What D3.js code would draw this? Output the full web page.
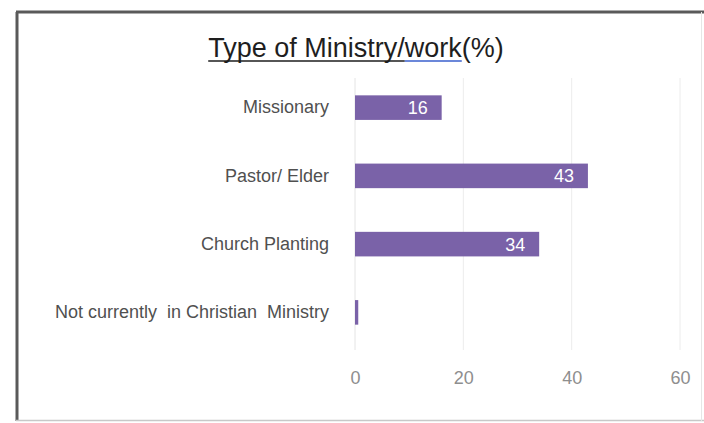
<!DOCTYPE html>
<html>
<head>
<meta charset="utf-8">
<script src="https://cdn.jsdelivr.net/npm/d3@7"></script>
<style>
  html, body { margin: 0; padding: 0; background: #fff; }
  svg { display: block; }
</style>
</head>
<body>
<svg id="chart" width="704" height="423"></svg>
<script>
// ---- data ----
const categories = ["Missionary", "Pastor/ Elder", "Church Planting", "Not currently  in Christian  Ministry"];
const values = [16, 43, 34, 0.6];
const valueLabels = ["16", "43", "34", ""];
const tickValues = [0, 20, 40, 60];
const titleParts = ["Type of Ministry/", "work", "(%)"];

const svg = d3.select("#chart");
const W = 704, H = 423;

// frame
svg.append("rect").attr("x", 0).attr("y", 0).attr("width", W).attr("height", H).attr("fill", "#fff");
svg.append("line").attr("x1", 17).attr("y1", 12).attr("x2", 17).attr("y2", 421).attr("stroke", "#5a5a5a").attr("stroke-width", 3);
svg.append("line").attr("x1", 16).attr("y1", 12).attr("x2", 704).attr("y2", 12).attr("stroke", "#5a5a5a").attr("stroke-width", 3);
svg.append("line").attr("x1", 16).attr("y1", 420.5).attr("x2", 704).attr("y2", 420.5).attr("stroke", "#c8c8c8").attr("stroke-width", 1.5);
svg.append("line").attr("x1", 701.5).attr("y1", 12).attr("x2", 701.5).attr("y2", 421).attr("stroke", "#e6e6e6").attr("stroke-width", 1);

// scales
const x = d3.scaleLinear().domain([0, 60]).range([355, 680]);
const y = d3.scaleBand().domain(categories).range([73.5, 346.5]).paddingInner(0.64).paddingOuter(0.32);

// gridlines
svg.append("g").selectAll("line").data(tickValues).join("line")
  .attr("x1", d => x(d)).attr("x2", d => x(d))
  .attr("y1", 78).attr("y2", 350)
  .attr("stroke", d => d === 0 ? "#e4e4e4" : "#ececec").attr("stroke-width", 1);

// x axis labels
const xAxis = d3.axisBottom(x).tickValues(tickValues).tickSize(0).tickPadding(0);
const gx = svg.append("g").attr("transform", "translate(0,371)").call(xAxis);
gx.select(".domain").remove();
gx.selectAll("text")
  .attr("font-family", "Liberation Sans, Arial, sans-serif")
  .attr("font-size", 18).attr("fill", "#8e8e8e").attr("dy", "0.71em");

// y axis labels
const yAxis = d3.axisLeft(y).tickSize(0).tickPadding(0);
const gy = svg.append("g").attr("transform", "translate(329,0)").call(yAxis);
gy.select(".domain").remove();
gy.selectAll("text")
  .attr("font-family", "Liberation Sans, Arial, sans-serif")
  .attr("font-size", 18).attr("fill", "#505050")
  .style("white-space", "pre").attr("xml:space", "preserve");

// bars
svg.append("g").selectAll("rect").data(categories).join("rect")
  .attr("x", x(0))
  .attr("y", d => y(d))
  .attr("width", (d, i) => Math.max(0, x(values[i]) - x(0)))
  .attr("height", y.bandwidth())
  .attr("fill", "#7a62a8");

// value labels
svg.append("g").selectAll("text").data(categories).join("text")
  .attr("x", (d, i) => x(values[i]) - 14)
  .attr("y", d => y(d) + y.bandwidth() / 2)
  .attr("dy", "0.36em")
  .attr("text-anchor", "end")
  .attr("font-family", "Liberation Sans, Arial, sans-serif")
  .attr("font-size", 18).attr("fill", "#ffffff")
  .text((d, i) => valueLabels[i]);

// title
const title = svg.append("text")
  .attr("x", 356).attr("y", 57)
  .attr("text-anchor", "middle")
  .attr("font-family", "Liberation Sans, Arial, sans-serif")
  .attr("font-size", 27).attr("fill", "#1e1e1e");
titleParts.forEach(p => title.append("tspan").text(p));
const tnode = title.node();
const bbox = tnode.getBBox();
const startX = bbox.x;
const w0 = tnode.getSubStringLength(0, titleParts[0].length);
const w1 = tnode.getSubStringLength(titleParts[0].length, titleParts[1].length);
svg.append("line").attr("x1", startX).attr("x2", startX + w0).attr("y1", 61).attr("y2", 61)
  .attr("stroke", "#1e1e1e").attr("stroke-width", 1.6);
svg.append("line").attr("x1", startX + w0).attr("x2", startX + w0 + w1).attr("y1", 61).attr("y2", 61)
  .attr("stroke", "#3a5fcd").attr("stroke-width", 1.6);
</script>
</body>
</html>
